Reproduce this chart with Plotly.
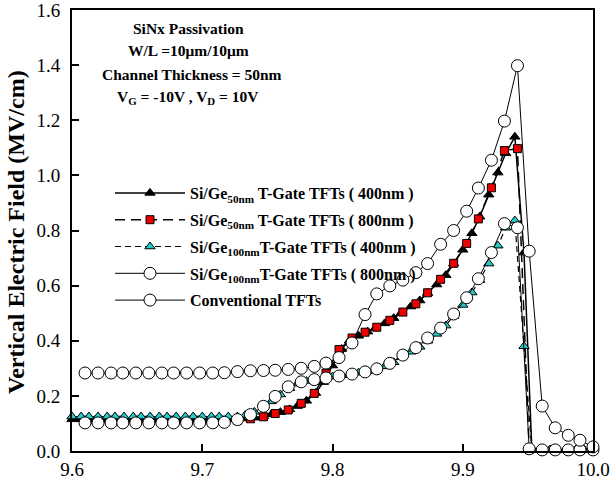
import plotly.graph_objects as go

# ---------------- data ----------------
# coarse grid (circles / squares)
x_grid = [9.610, 9.620, 9.630, 9.639, 9.649, 9.659, 9.669, 9.678, 9.688, 9.698,
          9.708, 9.717, 9.727, 9.737, 9.747, 9.756, 9.766, 9.776, 9.786, 9.795,
          9.805, 9.815, 9.825, 9.834, 9.844, 9.854, 9.864, 9.873, 9.883, 9.893,
          9.903, 9.912, 9.922, 9.932, 9.942, 9.951, 9.961, 9.971, 9.981, 9.990,
          10.000]
# dense grid (triangles)
x_dense = [9.600, 9.607, 9.613, 9.620, 9.627, 9.633, 9.640, 9.647, 9.653, 9.660,
           9.667, 9.673, 9.680, 9.687, 9.693, 9.700, 9.707, 9.713, 9.720, 9.727,
           9.733, 9.740, 9.747, 9.753, 9.760, 9.767, 9.773, 9.780, 9.787, 9.793,
           9.800, 9.807, 9.813, 9.820, 9.827, 9.833, 9.840, 9.847, 9.853, 9.860,
           9.867, 9.873, 9.880, 9.887, 9.893, 9.900, 9.907, 9.913, 9.920, 9.927,
           9.933, 9.940, 9.947, 9.953, 9.960, 9.967, 9.973, 9.980, 9.987, 9.993,
           10.000]

y_sige50_400 = [0.115, 0.115, 0.115, 0.115, 0.115, 0.115, 0.115, 0.115, 0.115, 0.115,
                0.115, 0.115, 0.115, 0.115, 0.115, 0.115, 0.115, 0.115, 0.115, 0.115,
                0.118, 0.121, 0.126, 0.133, 0.141, 0.151, 0.163, 0.182, 0.210, 0.250,
                0.310, 0.370, 0.400, 0.418, 0.433, 0.447, 0.463, 0.482, 0.503, 0.524,
                0.546, 0.573, 0.604, 0.638, 0.680, 0.730, 0.790, 0.850, 0.930, 1.010,
                1.080, 1.140, 0.720, 0.010, 0.005, 0.005, 0.005, 0.005, 0.005, 0.005,
                0.005]

y_sige50_800 = [0.112, 0.112, 0.112, 0.112, 0.112, 0.112, 0.112, 0.112, 0.112, 0.112,
                0.112, 0.112, 0.112, 0.117, 0.124, 0.136, 0.149, 0.173, 0.209, 0.282,
                0.368, 0.410, 0.431, 0.449, 0.474, 0.504, 0.534, 0.574, 0.623, 0.681,
                0.753, 0.842, 0.955, 1.090, 1.097, 0.005, 0.003, 0.003, 0.003, 0.003,
                0.003]

y_sige100_400 = [0.125, 0.125, 0.125, 0.125, 0.125, 0.125, 0.125, 0.125, 0.125, 0.125,
                 0.125, 0.125, 0.125, 0.125, 0.125, 0.125, 0.125, 0.125, 0.125, 0.125,
                 0.130, 0.142, 0.160, 0.180, 0.205, 0.228, 0.244, 0.254, 0.260, 0.265,
                 0.270, 0.275, 0.279, 0.284, 0.290, 0.297, 0.307, 0.322, 0.340, 0.360,
                 0.378, 0.400, 0.425, 0.455, 0.490, 0.530, 0.575, 0.620, 0.680, 0.745,
                 0.810, 0.836, 0.380, 0.005, 0.005, 0.005, 0.005, 0.005, 0.005, 0.005,
                 0.005]

y_sige100_800 = [0.102, 0.102, 0.102, 0.102, 0.102, 0.102, 0.102, 0.102, 0.102, 0.102,
                 0.102, 0.104, 0.114, 0.132, 0.162, 0.198, 0.233, 0.251, 0.259, 0.265,
                 0.272, 0.279, 0.287, 0.298, 0.318, 0.348, 0.375, 0.410, 0.446, 0.497,
                 0.556, 0.625, 0.720, 0.825, 0.810, 0.008, 0.004, 0.004, 0.004, 0.004,
                 0.004]

y_conventional = [0.283, 0.283, 0.283, 0.283, 0.283, 0.283, 0.283, 0.283, 0.283, 0.283,
                  0.283, 0.284, 0.288, 0.291, 0.292, 0.293, 0.296, 0.300, 0.307, 0.319,
                  0.339, 0.392, 0.495, 0.570, 0.599, 0.620, 0.647, 0.680, 0.750, 0.800,
                  0.870, 0.954, 1.055, 1.197, 1.398, 0.725, 0.163, 0.084, 0.057, 0.039,
                  0.015]

names = ["<b>Si/Ge<sub>50nm</sub> T-Gate TFTs ( 400nm )</b>",
         "<b>Si/Ge<sub>50nm</sub> T-Gate TFTs ( 800nm )</b>",
         "<b>Si/Ge<sub>100nm</sub>T-Gate TFTs ( 400nm )</b>",
         "<b>Si/Ge<sub>100nm</sub>T-Gate TFTs ( 800nm )</b>",
         "<b>Conventional TFTs</b>"]

x_ticks = [9.6, 9.7, 9.8, 9.9, 10.0]
y_ticks = [0.0, 0.2, 0.4, 0.6, 0.8, 1.0, 1.2, 1.4, 1.6]

FONT = "Liberation Serif, Times New Roman, serif"

fig = go.Figure()

fig.add_trace(go.Scatter(
    x=x_dense, y=y_sige50_400, name=names[0], mode="lines+markers", legendgroup="a",
    line=dict(color="black", width=1.5),
    marker=dict(symbol="triangle-up", size=9, color="black", line=dict(color="black", width=1)),
    cliponaxis=False))
fig.add_trace(go.Scatter(
    x=x_grid, y=y_sige50_800, name=names[1], mode="lines+markers", legendgroup="b",
    line=dict(color="black", width=1.5, dash="10px,6px"),
    marker=dict(symbol="square", size=8, color="#ee0000", line=dict(color="black", width=1)),
    cliponaxis=False))
fig.add_trace(go.Scatter(
    x=x_dense, y=y_sige100_400, name=names[2], mode="lines+markers", legendgroup="c",
    line=dict(color="black", width=1.2, dash="6px,4px"),
    marker=dict(symbol="triangle-up", size=9, color="#22cccc", line=dict(color="black", width=1)),
    cliponaxis=False))
fig.add_trace(go.Scatter(
    x=x_grid, y=y_sige100_800, name=names[3], mode="lines+markers", legendgroup="d",
    line=dict(color="black", width=1),
    marker=dict(symbol="circle", size=12, color="white", line=dict(color="black", width=1)),
    cliponaxis=False))
fig.add_trace(go.Scatter(
    x=x_grid, y=y_conventional, name=names[4], mode="lines+markers", legendgroup="e",
    line=dict(color="black", width=1),
    marker=dict(symbol="circle", size=12, color="white", line=dict(color="black", width=1)),
    cliponaxis=False))

L, R, T, B = 72, 17, 10, 49
W, H = 610, 500
pw, ph = W - L - R, H - T - B


def px(X):
    return (X - L) / pw


def py(Y):
    return (H - B - Y) / ph


annots = [
    ("<b>SiNx Passivation</b>", 188, 28),
    ("<b>W/L =10\u03bcm/10\u03bcm</b>", 188, 51),
    ("<b>Channel Thickness = 50nm</b>", 192, 74),
    ("<b>V<sub>G</sub> = -10V , V<sub>D</sub> = 10V</b>", 188, 97),
]
for txt, X, Y in annots:
    fig.add_annotation(text=txt, xref="paper", yref="paper", x=px(X), y=py(Y),
                       xanchor="center", yanchor="middle", showarrow=False,
                       font=dict(family=FONT, size=15.5, color="black"))

fig.add_annotation(text="<b>Vertical Electric Field (MV/cm)</b>", xref="paper", yref="paper",
                   x=px(16), y=py(232), textangle=-90, showarrow=False,
                   xanchor="center", yanchor="middle",
                   font=dict(family=FONT, size=24, color="black"))

fig.update_layout(
    width=W, height=H,
    margin=dict(l=L, r=R, t=T, b=B, autoexpand=False),
    paper_bgcolor="white", plot_bgcolor="white",
    font=dict(family=FONT, color="black"),
    showlegend=True,
    legend=dict(x=px(110), y=py(176), xanchor="left", yanchor="top",
                bgcolor="rgba(0,0,0,0)", borderwidth=0,
                font=dict(family=FONT, size=16, color="black"),
                itemwidth=70, tracegroupgap=3, traceorder="grouped"),
    xaxis=dict(range=[9.6, 10.0], tickvals=x_ticks, tickformat=".1f",
               ticks="inside", ticklen=7, tickwidth=1.5, tickcolor="black",
               showline=True, linecolor="black", linewidth=2, mirror=True,
               showgrid=False, zeroline=False, automargin=False,
               ticklabeloverflow="allow",
               tickfont=dict(family=FONT, size=19, color="black")),
    yaxis=dict(range=[0, 1.6], tickvals=y_ticks, tickformat=".1f",
               ticks="inside", ticklen=7, tickwidth=1.5, tickcolor="black",
               showline=True, linecolor="black", linewidth=2, mirror=True,
               showgrid=False, zeroline=False, automargin=False,
               ticklabelstandoff=6, ticklabeloverflow="allow",
               tickfont=dict(family=FONT, size=19, color="black")),
)

fig.write_html("out.html")
